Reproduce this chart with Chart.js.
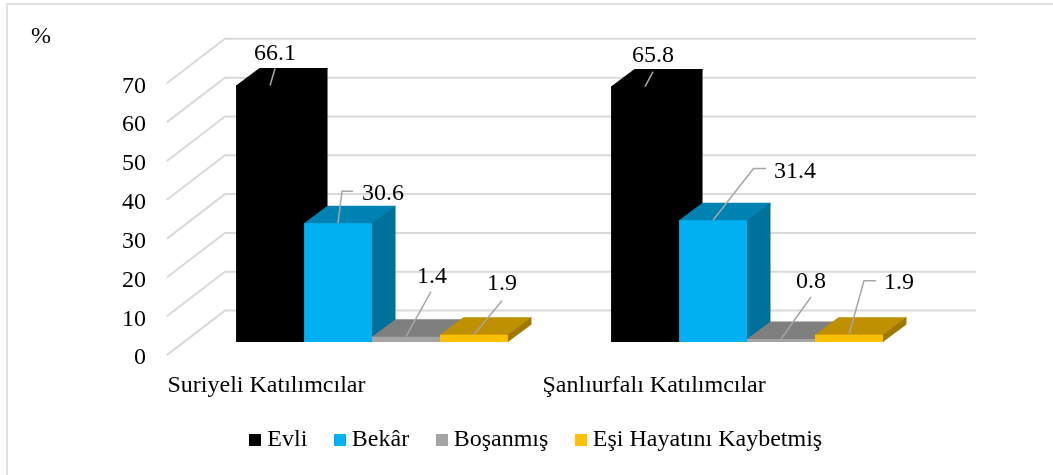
<!DOCTYPE html>
<html>
<head>
<meta charset="utf-8">
<script src="https://cdn.jsdelivr.net/npm/chart.js@4"></script>
<style>
    html, body { margin: 0; background: #fff; }
    canvas { display: block; }
</style>
</head>
<body>
<canvas id="chart" width="1053" height="475"></canvas>
<script>
const categories = ["Suriyeli Katılımcılar", "Şanlıurfalı Katılımcılar"];
const seriesNames = ["Evli", "Bekâr", "Boşanmış", "Eşi Hayatını Kaybetmiş"];
const evli = [66.1, 65.8];
const bekar = [30.6, 31.4];
const bosanmis = [1.4, 0.8];
const esi = [1.9, 1.9];
const yTicks = [0, 10, 20, 30, 40, 50, 60, 70];

const FONT = "'Liberation Serif', 'Times New Roman', serif";
const FONT_SIZE = 24;
const GRID = "#d9d9d9";

// 3D look: [front, top, side] per series
const faces = [
    ["#000000", "#000000", "#000000"],
    ["#00b0f0", "#0083b3", "#00719b"],
    ["#a5a5a5", "#7f7f7f", "#6b6b6b"],
    ["#ffc000", "#bf9000", "#a07800"]
];
const depth = { x: 23.5, y: -17.5 };   // bar depth
const labelDrop = 3;                   // tick text sits above its pixel, so the grid is moved up to meet it
const barLift = -13 - labelDrop;       // bars stand a bit behind the front edge of the floor
const floor = { front: -17.7, back: 40.5, rise: -44.5, right: 976 };
const legendShift = { x: 56, y: -10.6 };

// callouts, offsets from the middle of the bar's top edge: [line points..., text centre]
const callouts = [
    [[[5, -17]], [5, -31.5]],
    [[[4, -32], [15, -32]], [45, -29.5]],
    [[[25, -45]], [26, -60]],
    [[[28, -34]], [28, -51]],
    [[[8, -15]], [8, -30.5]],
    [[[40.5, -51.7], [53, -51.7]], [82, -48]],
    [[[30, -42]], [30, -57]],
    [[[15, -54], [27, -54]], [50, -52.5]]
];

function poly(ctx, color, pts) {
    ctx.fillStyle = color;
    ctx.beginPath();
    pts.forEach((p, i) => i ? ctx.lineTo(p[0], p[1]) : ctx.moveTo(p[0], p[1]));
    ctx.closePath();
    ctx.fill();
}

// legend swatch as a small canvas, so the text can sit closer than the default gap
function swatch(color) {
    const c = document.createElement("canvas");
    c.width = c.height = 12;
    const g = c.getContext("2d");
    g.fillStyle = color;
    g.fillRect(0, 0, 12, 12);
    return c;
}

const scene3d = {
    id: "scene3d",
    afterLayout(chart) {
        chart.legend.left += legendShift.x;
        chart.legend.right += legendShift.x;
        chart.legend.top += legendShift.y;
        chart.legend.bottom += legendShift.y;
    },
    beforeDraw(chart) {
        // frame only shows on the top and left
        const { ctx, width, height } = chart;
        ctx.save();
        ctx.strokeStyle = "#e0e0e0";
        ctx.lineWidth = 2;
        ctx.beginPath();
        ctx.moveTo(7, height);
        ctx.lineTo(7, 4);
        ctx.lineTo(width, 4);
        ctx.stroke();
        ctx.restore();
    },
    beforeDatasetsDraw(chart) {
        const { ctx, chartArea, scales } = chart;
        ctx.save();
        ctx.strokeStyle = GRID;
        ctx.lineWidth = 2;
        scales.y.ticks.forEach(t => {
            const y = scales.y.getPixelForValue(t.value) - labelDrop;
            ctx.beginPath();
            ctx.moveTo(chartArea.left + floor.front, y);
            ctx.lineTo(chartArea.left + floor.back, y + floor.rise);
            ctx.lineTo(floor.right, y + floor.rise);
            ctx.stroke();
        });
        ctx.restore();

        // top and side faces first, series by series, the fronts then go over them
        // each face runs a bit under the next one so no seam shows
        ctx.save();
        ctx.translate(0, barLift);
        chart.data.datasets.forEach((ds, d) => {
            const c = faces[d];
            chart.getDatasetMeta(d).data.forEach(bar => {
                const l = bar.x - bar.width / 2, r = bar.x + bar.width / 2;
                poly(ctx, c[1], [[l, bar.y + 1], [r + 0.7, bar.y + 1], [r + depth.x + 0.7, bar.y + depth.y], [l + depth.x, bar.y + depth.y], [l, bar.y]]);
                poly(ctx, c[2], [[r - 1, bar.y], [r, bar.y], [r + depth.x, bar.y + depth.y], [r + depth.x, bar.base + depth.y], [r, bar.base], [r - 1, bar.base]]);
            });
        });
    },
    afterDatasetsDraw(chart) {
        const { ctx } = chart;
        ctx.restore();

        ctx.save();
        ctx.font = FONT_SIZE + "px " + FONT;
        ctx.fillStyle = "#000";
        ctx.textAlign = "center";
        ctx.textBaseline = "middle";
        let n = 0;
        // callouts run group by group
        chart.data.labels.forEach((_, g) => {
            chart.data.datasets.forEach((ds, d) => {
                const bar = chart.getDatasetMeta(d).data[g];
                const x0 = bar.x, y0 = bar.y + barLift;
                const [line, text] = callouts[n++];
                ctx.strokeStyle = "#a6a6a6";
                ctx.lineWidth = 1.5;
                ctx.beginPath();
                ctx.moveTo(x0, y0);
                line.forEach(p => ctx.lineTo(x0 + p[0], y0 + p[1]));
                ctx.stroke();
                ctx.fillText(ds.data[g].toFixed(1), x0 + text[0], y0 + text[1]);
            });
        });
        ctx.restore();
    }
};

const seriesValues = [evli, bekar, bosanmis, esi];

new Chart(document.getElementById("chart"), {
    type: "bar",
    data: {
        labels: categories,
        datasets: seriesNames.map((name, i) => ({
            label: name,
            data: seriesValues[i],
            backgroundColor: faces[i][0],
            pointStyle: swatch(faces[i][0]),
            clip: false
        }))
    },
    options: {
        responsive: false,
        animation: false,
        layout: { padding: { left: 31, right: 118.5, top: 22, bottom: 2.6 } },
        datasets: { bar: { barPercentage: 1, categoryPercentage: 0.725 } },
        plugins: {
            tooltip: { enabled: false },
            title: {
                display: true,
                text: "%",
                align: "start",
                color: "#000",
                font: { family: FONT, size: FONT_SIZE, weight: "normal" },
                padding: { top: 0, bottom: 35.5 }
            },
            legend: {
                position: "bottom",
                labels: {
                    color: "#000",
                    font: { family: FONT, size: FONT_SIZE },
                    usePointStyle: true,
                    pointStyleWidth: 0.01,
                    boxHeight: 12,
                    padding: 32.5
                }
            }
        },
        scales: {
            x: {
                grid: { display: false },
                border: { display: false },
                ticks: {
                    color: "#000",
                    font: { family: FONT, size: FONT_SIZE },
                    align: "start",
                    labelOffset: -204.5,
                    padding: 5.5,
                    maxRotation: 0,
                    autoSkip: false
                }
            },
            y: {
                min: 0,
                max: 70,
                grid: { display: false, drawTicks: false },
                border: { display: false },
                afterBuildTicks(scale) {
                    scale.ticks = yTicks.map(v => ({ value: v }));
                },
                afterFit(scale) {
                    scale.width = 153.5;
                },
                ticks: {
                    color: "#000",
                    font: { family: FONT, size: FONT_SIZE },
                    padding: 38.5
                }
            }
        }
    },
    plugins: [scene3d]
});
</script>
</body>
</html>
